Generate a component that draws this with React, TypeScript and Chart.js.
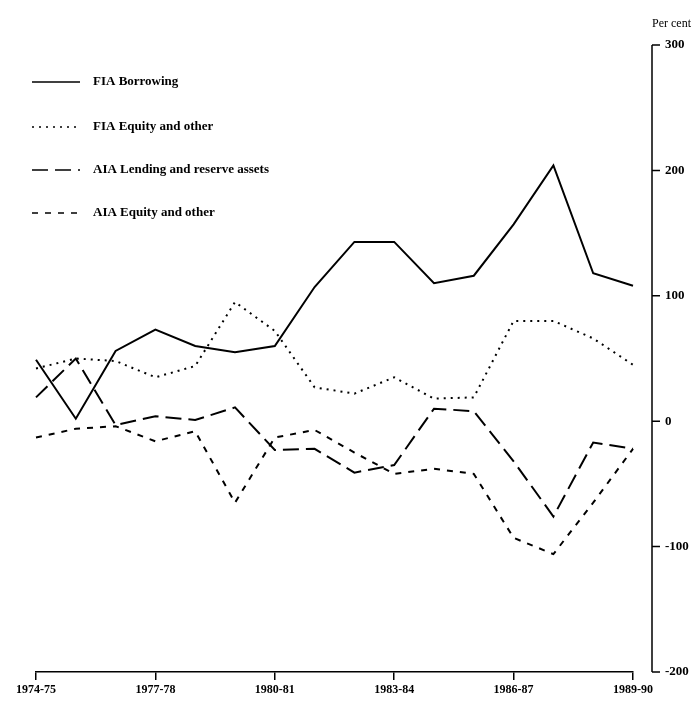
import React, { useEffect, useRef } from 'react';
import { Chart, registerables } from 'chart.js';

Chart.register(...registerables);

const years = ['1974-75', '1975-76', '1976-77', '1977-78', '1978-79', '1979-80', '1980-81', '1981-82', '1982-83', '1983-84', '1984-85', '1985-86', '1986-87', '1987-88', '1988-89', '1989-90'];
const fiaBorrowing = [49, 2, 56, 73, 60, 55, 60, 107, 143, 143, 110, 116, 157, 204, 118, 108];
const fiaEquity = [42, 50, 48, 35, 44, 95, 72, 27, 22, 35, 18, 19, 80, 80, 66, 45];
const aiaLending = [19, 50, -3, 4, 1, 11, -23, -22, -41, -35, 10, 8, -32, -76, -17, -22];
const aiaEquity = [-13, -6, -4, -16, -8, -65, -13, -7, -25, -42, -38, -42, -93, -106, -65, -22];
const seriesNames = ['FIA Borrowing', 'FIA Equity and other', 'AIA Lending and reserve assets', 'AIA Equity and other'];
const yTicks = [300, 200, 100, 0, -100, -200];
const unitLabel = 'Per cent';

const FONT = '"Liberation Serif", "Times New Roman", serif';

const customPlugin = {
  id: 'customAxesLegend',
  afterDraw(chart: any) {
    const { ctx, chartArea, scales } = chart;
    const y = scales.y;
    const axisX = chartArea.right + 19;
    ctx.save();
    ctx.strokeStyle = '#000';
    ctx.fillStyle = '#000';
    ctx.lineWidth = 1.5;
    ctx.setLineDash([]);
    ctx.beginPath();
    ctx.moveTo(axisX, y.getPixelForValue(yTicks[0]));
    ctx.lineTo(axisX, y.getPixelForValue(yTicks[yTicks.length - 1]));
    yTicks.forEach((v) => {
      const py = y.getPixelForValue(v);
      ctx.moveTo(axisX, py);
      ctx.lineTo(axisX + 8, py);
    });
    ctx.stroke();

    ctx.font = '12px ' + FONT;
    ctx.textAlign = 'left';
    ctx.textBaseline = 'middle';
    ctx.fillText(unitLabel, axisX, 24);

    // legend
    const rows = [82, 127, 170, 213];
    chart.data.datasets.forEach((ds: any, i: number) => {
      const ry = rows[i];
      ctx.beginPath();
      ctx.lineWidth = 1.5;
      ctx.setLineDash(ds.borderDash || []);
      ctx.moveTo(32, ry);
      ctx.lineTo(80, ry);
      ctx.stroke();
      ctx.setLineDash([]);
      ctx.font = 'bold 13px ' + FONT;
      ctx.fillText(ds.label, 93, ry);
    });
    ctx.restore();
  },
};

export default function App() {
  const ref = useRef<HTMLCanvasElement>(null);
  useEffect(() => {
    if (!ref.current) return;
    const mk = (label: string, data: number[], dash: number[]) => ({
      label,
      data,
      borderColor: '#000',
      backgroundColor: '#000',
      borderWidth: 2,
      borderDash: dash,
      pointRadius: 0,
      tension: 0,
      fill: false,
    });
    const chart = new Chart(ref.current, {
      type: 'line',
      data: {
        labels: years,
        datasets: [
          mk(seriesNames[0], fiaBorrowing, []),
          mk(seriesNames[1], fiaEquity, [2, 5]),
          mk(seriesNames[2], aiaLending, [16, 7]),
          mk(seriesNames[3], aiaEquity, [6, 7]),
        ],
      },
      options: {
        animation: false,
        responsive: false,
        layout: { padding: { left: 36, top: 45, right: 0, bottom: 0 } },
        plugins: { legend: { display: false }, tooltip: { enabled: false } },
        scales: {
          x: {
            type: 'category',
            afterFit: (s: any) => { s.height = 41; },
            border: { display: true, color: '#000', width: 1.5 },
            grid: {
              display: true,
              drawOnChartArea: false,
              drawTicks: true,
              tickLength: 8,
              lineWidth: 1.5,
              color: (c: any) => (c.index % 3 === 0 ? '#000' : 'rgba(0,0,0,0)'),
            },
            ticks: {
              autoSkip: false,
              maxRotation: 0,
              padding: 3,
              color: '#000',
              font: { family: FONT, size: 12, weight: 'bold' },
              callback: (_v: any, idx: number) => (idx % 3 === 0 ? years[idx] : ''),
            },
          },
          y: {
            position: 'right',
            min: -200,
            max: 300,
            afterFit: (s: any) => { s.width = 61; },
            border: { display: false },
            grid: { display: false, drawTicks: false },
            ticks: {
              stepSize: 100,
              padding: 32,
              color: '#000',
              font: { family: FONT, size: 13, weight: 'bold' },
            },
          },
        },
      },
      plugins: [customPlugin],
    } as any);
    return () => chart.destroy();
  }, []);
  return (
    <div style={{ position: 'absolute', left: 0, top: 0, width: 694, height: 713, background: '#fff' }}>
      <canvas ref={ref} width={694} height={713} />
    </div>
  );
}
